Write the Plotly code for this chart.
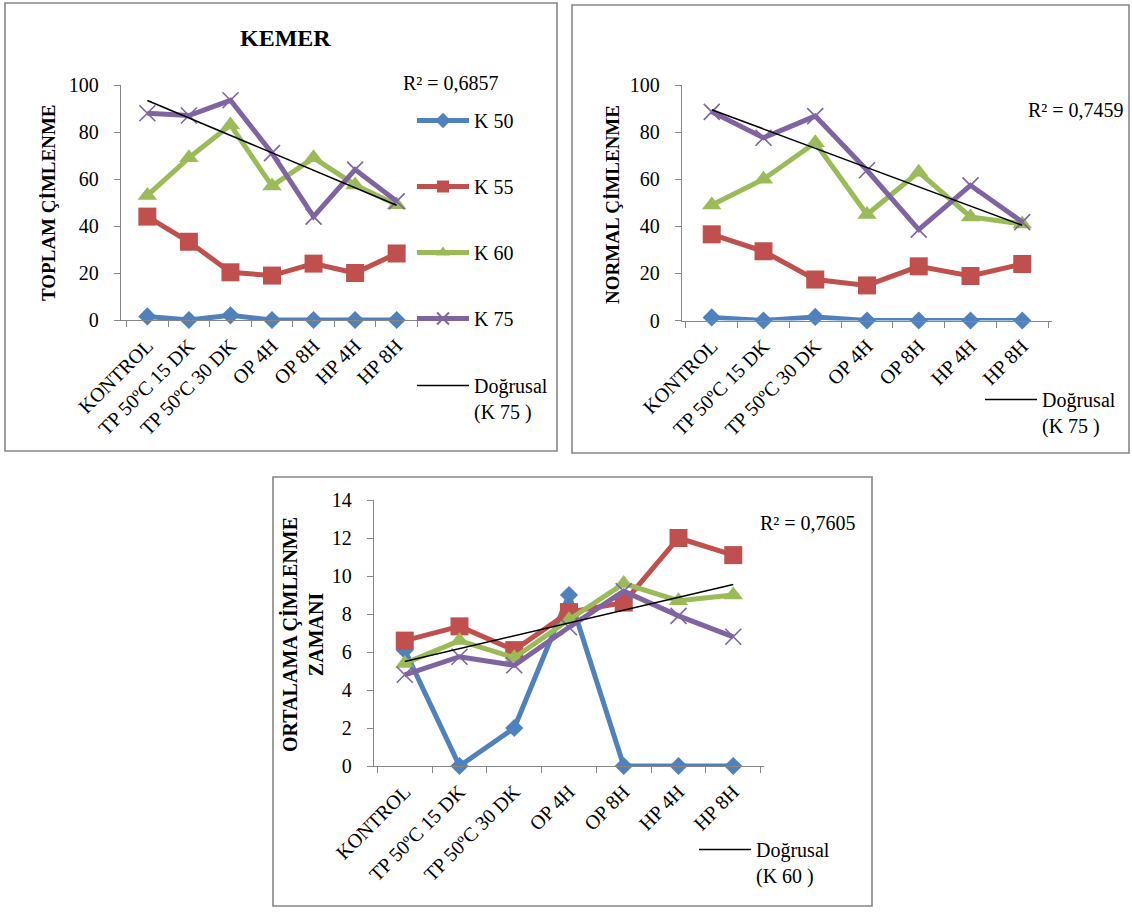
import numpy as np
import plotly.graph_objects as go

# ---- data -------------------------------------------------------------
categories = ["KONTROL", "TP 50ºC 15 DK", "TP 50ºC 30 DK", "OP 4H", "OP 8H", "HP 4H", "HP 8H"]
series_names = ["K 50", "K 55", "K 60", "K 75"]

toplam_k50 = [1.5, 0, 2, 0, 0, 0, 0]
toplam_k55 = [44, 33.3, 20.3, 18.9, 24, 20, 28.3]
toplam_k60 = [53, 69, 83, 57, 69, 57.5, 49]
toplam_k75 = [88, 87, 93.5, 71, 44, 64, 50.5]

normal_k50 = [1.3, 0, 1.5, 0, 0, 0, 0]
normal_k55 = [36.6, 29.4, 17.4, 14.9, 23, 18.9, 24]
normal_k60 = [49, 60, 75.5, 45, 63, 44, 41]
normal_k75 = [88.6, 77.6, 86.8, 63.8, 38.6, 57.4, 41.8]

zaman_k50 = [6.1, 0, 2, 9, 0, 0, 0]
zaman_k55 = [6.6, 7.35, 6.1, 8.1, 8.6, 12, 11.1]
zaman_k60 = [5.4, 6.6, 5.7, 7.7, 9.6, 8.7, 9.0]
zaman_k75 = [4.8, 5.75, 5.3, 7.3, 9.2, 7.9, 6.8]

r2_labels = ["R² = 0,6857", "R² = 0,7459", "R² = 0,7605"]

# ---- styling ----------------------------------------------------------
W, H = 1132, 913
FONT = "Liberation Serif, Times New Roman, serif"
AXIS_GREY = "#868686"

styles = [
    dict(color="#4F81BD", marker=dict(symbol="diamond", size=14, color="#4F81BD")),
    dict(color="#C0504D", marker=dict(symbol="square", size=18, color="#C0504D")),
    dict(color="#9BBB59", marker=dict(symbol="triangle-up", size=17, color="#9BBB59")),
    dict(color="#8064A2", marker=dict(symbol="x-thin", size=16, color="#8064A2",
                                      line=dict(width=1.6, color="#8064A2"))),
]


def fx(px):
    return px / W


def fy(py):
    return 1 - py / H


fig = go.Figure()


def add_panel(xa, ya, data, trend_idx, series_legend, trend_legend, show_series):
    for i, (name, vals, st) in enumerate(zip(series_names, data, styles)):
        fig.add_trace(go.Scatter(
            x=categories, y=vals, name=name, mode="lines+markers",
            line=dict(color=st["color"], width=5),
            marker=st["marker"], xaxis=xa, yaxis=ya,
            legend=series_legend, legendgroup=f"{series_legend}-{i}",
            showlegend=show_series, cliponaxis=False,
        ))
    # linear trend line fitted to one series
    xi = np.arange(len(categories))
    slope, intercept = np.polyfit(xi, np.asarray(data[trend_idx], float), 1)
    fig.add_trace(go.Scatter(
        x=categories, y=slope * xi + intercept, mode="lines",
        name=f"Doğrusal<br>({series_names[trend_idx]} )",
        line=dict(color="black", width=1.6),
        xaxis=xa, yaxis=ya, legend=trend_legend,
        showlegend=True, cliponaxis=False,
    ))


add_panel("x", "y", [toplam_k50, toplam_k55, toplam_k60, toplam_k75], 3, "legend", "legend4", True)
add_panel("x2", "y2", [normal_k50, normal_k55, normal_k60, normal_k75], 3, "legend", "legend2", False)
add_panel("x3", "y3", [zaman_k50, zaman_k55, zaman_k60, zaman_k75], 2, "legend", "legend3", False)

xaxis_common = dict(
    type="category", categoryorder="array", categoryarray=categories,
    tickson="boundaries", ticks="outside", ticklen=6, tickcolor=AXIS_GREY,
    showline=True, linecolor=AXIS_GREY, linewidth=1.4, showgrid=False,
    zeroline=False, tickangle=-45, tickfont=dict(family=FONT, size=20, color="black"),
    ticklabelstandoff=5, fixedrange=True, automargin=False,
)
yaxis_common = dict(
    ticks="outside", ticklen=6, tickcolor=AXIS_GREY, showline=True,
    linecolor=AXIS_GREY, linewidth=1.4, showgrid=False, zeroline=False,
    tickfont=dict(family=FONT, size=20, color="black"), fixedrange=True,
    ticklabelstandoff=11, automargin=False,
)

legend_common = dict(
    font=dict(family=FONT, size=20, color="black"), bgcolor="rgba(0,0,0,0)",
    itemwidth=52, valign="top", xanchor="left", yanchor="top",
    traceorder="grouped",
)

fig.update_layout(
    width=W, height=H, margin=dict(l=0, r=0, t=0, b=0, autoexpand=False),
    paper_bgcolor="white", plot_bgcolor="rgba(0,0,0,0)",
    font=dict(family=FONT, color="black"),
    xaxis=dict(domain=[fx(121), fx(423)], anchor="y", **xaxis_common),
    yaxis=dict(domain=[fy(320), fy(85)], anchor="x", range=[0, 100], dtick=20, **yaxis_common),
    xaxis2=dict(domain=[fx(682), fx(1052)], anchor="y2", **xaxis_common),
    yaxis2=dict(domain=[fy(320.5), fy(85)], anchor="x2", range=[0, 100], dtick=20, **yaxis_common),
    xaxis3=dict(domain=[fx(374), fx(764)], anchor="y3", **xaxis_common),
    yaxis3=dict(domain=[fy(766), fy(500)], anchor="x3", range=[0, 14], dtick=2, **yaxis_common),
    legend=dict(x=fx(412), y=fy(101), tracegroupgap=37, itemsizing="constant", **legend_common),
    legend4=dict(x=fx(412), y=fy(366), **legend_common),
    legend2=dict(x=fx(980), y=fy(380), **legend_common),
    legend3=dict(x=fx(694), y=fy(830), **legend_common),
    showlegend=True,
)

# chart frames
for x0, y0, x1, y1 in [(5, 3, 557, 451), (572, 5, 1129, 453), (273, 477, 872, 906)]:
    fig.add_shape(type="rect", xref="paper", yref="paper",
                  x0=fx(x0), y0=fy(y0), x1=fx(x1), y1=fy(y1),
                  line=dict(color=AXIS_GREY, width=1.6), layer="below")

annotations = [
    dict(text="<b>KEMER</b>", x=fx(285), y=fy(38), font=dict(size=24)),
    dict(text="<b>TOPLAM ÇİMLENME</b>", x=fx(49), y=fy(203), textangle=-90, font=dict(size=19)),
    dict(text="<b>NORMAL ÇİMLENME</b>", x=fx(612), y=fy(205), textangle=-90, font=dict(size=19)),
    dict(text="<b>ORTALAMA ÇİMLENME<br>ZAMANI</b>", x=fx(302), y=fy(635), textangle=-90,
         font=dict(size=20)),
    dict(text=r2_labels[0], x=fx(451), y=fy(83), font=dict(size=20)),
    dict(text=r2_labels[1], x=fx(1076), y=fy(110), font=dict(size=20)),
    dict(text=r2_labels[2], x=fx(808), y=fy(523), font=dict(size=20)),
]
for a in annotations:
    fig.add_annotation(xref="paper", yref="paper", showarrow=False,
                       xanchor="center", yanchor="middle",
                       font=dict(family=FONT, color="black", size=a["font"]["size"]),
                       **{k: v for k, v in a.items() if k != "font"})

fig.write_html("out.html")
